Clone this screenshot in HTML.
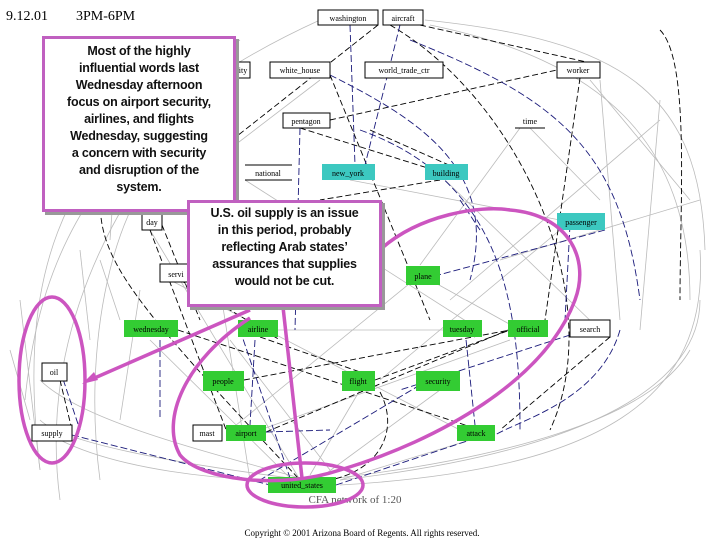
<!DOCTYPE html>
<html><head><meta charset="utf-8"><style>
body{margin:0;width:720px;height:540px;background:#fff;overflow:hidden;position:relative;font-family:"Liberation Serif",serif}
svg{position:absolute;left:0;top:0}
.cb{position:absolute;background:#fff;border:3px solid #c060c0;box-shadow:3px 3px 0 #999;font-family:"Liberation Sans","DejaVu Sans",sans-serif;font-weight:bold;text-align:center;color:#111;white-space:nowrap;box-sizing:border-box;letter-spacing:-0.2px}
</style></head><body>
<svg width="720" height="540" viewBox="0 0 720 540">
<text x="6" y="20" font-size="14" font-family="Liberation Serif">9.12.01</text>
<text x="76" y="20" font-size="14" font-family="Liberation Serif">3PM-6PM</text>
<g fill="none" stroke="#bbb" stroke-width="0.8">
<path d="M40 470 C20 300 40 150 240 40"/><path d="M25 400 C40 250 100 120 320 20"/>
<path d="M60 500 C40 350 100 200 230 70"/><path d="M100 480 C80 330 120 180 180 150"/>
<path d="M425 20 C620 40 700 90 705 250"/><path d="M430 25 C600 60 690 140 690 300"/>
<path d="M340 480 C600 450 700 380 700 300"/><path d="M340 485 C600 470 710 400 700 250"/>
<path d="M320 480 C500 460 650 420 690 350"/><path d="M300 478 C200 450 80 420 40 380"/>
<path d="M290 478 C150 460 60 440 40 420"/><path d="M60 440 C120 470 220 480 280 480"/>
<line x1="150" y1="230" x2="300" y2="480"/><line x1="170" y1="280" x2="460" y2="430"/>
<line x1="245" y1="180" x2="480" y2="330"/><line x1="350" y1="180" x2="560" y2="220"/>
<line x1="445" y1="180" x2="600" y2="330"/><line x1="520" y1="128" x2="420" y2="265"/>
<line x1="530" y1="128" x2="600" y2="200"/><line x1="590" y1="80" x2="690" y2="200"/>
<line x1="420" y1="275" x2="230" y2="430"/><line x1="430" y1="280" x2="520" y2="330"/>
<line x1="100" y1="260" x2="120" y2="320"/><line x1="230" y1="340" x2="330" y2="470"/>
<line x1="360" y1="390" x2="310" y2="475"/><line x1="440" y1="390" x2="320" y2="478"/>
<line x1="470" y1="440" x2="340" y2="480"/><line x1="150" y1="340" x2="290" y2="478"/>
<line x1="320" y1="80" x2="150" y2="210"/><line x1="600" y1="80" x2="620" y2="320"/>
<line x1="660" y1="100" x2="640" y2="330"/><line x1="80" y1="250" x2="90" y2="340"/>
<line x1="140" y1="290" x2="120" y2="420"/><line x1="510" y1="340" x2="260" y2="430"/>
<line x1="560" y1="230" x2="380" y2="380"/><line x1="240" y1="330" x2="470" y2="330"/>
<line x1="200" y1="160" x2="250" y2="480"/><line x1="120" y1="100" x2="110" y2="240"/>
<line x1="20" y1="300" x2="40" y2="470"/><line x1="10" y1="350" x2="30" y2="420"/>
<line x1="450" y1="300" x2="660" y2="120"/><line x1="500" y1="260" x2="700" y2="200"/>
</g>
<g fill="none" stroke="#000" stroke-width="0.9" stroke-dasharray="6,3">
<line x1="378" y1="25" x2="232" y2="140"/><line x1="420" y1="25" x2="600" y2="65"/>
<line x1="330" y1="120" x2="557" y2="70"/><line x1="300" y1="128" x2="450" y2="175"/>
<line x1="580" y1="78" x2="545" y2="320"/><line x1="440" y1="180" x2="320" y2="200"/>
<line x1="162" y1="225" x2="200" y2="320"/><line x1="150" y1="230" x2="230" y2="440"/>
<line x1="178" y1="330" x2="480" y2="430"/><line x1="375" y1="380" x2="510" y2="330"/>
<line x1="244" y1="380" x2="510" y2="330"/><line x1="266" y1="432" x2="508" y2="330"/>
<line x1="260" y1="337" x2="360" y2="372"/><line x1="180" y1="280" x2="280" y2="340"/>
<line x1="60" y1="380" x2="72" y2="430"/><line x1="370" y1="130" x2="460" y2="170"/>
<path d="M390 25 C520 100 610 300 550 430"/><path d="M660 30 C690 60 680 200 680 300"/>
<path d="M100 200 C100 260 130 300 300 480"/><path d="M380 392 C400 430 380 470 330 480"/>
<line x1="330" y1="75" x2="430" y2="320"/><line x1="610" y1="337" x2="500" y2="430"/>
</g>
<g fill="none" stroke="#1a1a7a" stroke-width="0.9" stroke-dasharray="7,3">
<line x1="350" y1="25" x2="355" y2="165"/><line x1="400" y1="25" x2="365" y2="165"/>
<path d="M360 130 C500 180 520 300 520 430"/><path d="M410 40 C560 100 620 150 640 300"/>
<line x1="605" y1="230" x2="420" y2="280"/><line x1="570" y1="225" x2="565" y2="320"/>
<line x1="72" y1="435" x2="270" y2="485"/><line x1="60" y1="370" x2="80" y2="430"/>
<line x1="336" y1="485" x2="470" y2="440"/><line x1="266" y1="432" x2="330" y2="430"/>
<line x1="160" y1="340" x2="160" y2="420"/><line x1="255" y1="340" x2="250" y2="425"/>
<line x1="420" y1="385" x2="260" y2="480"/><line x1="570" y1="335" x2="400" y2="390"/>
<line x1="465" y1="330" x2="475" y2="425"/><line x1="300" y1="128" x2="295" y2="330"/>
<path d="M330 75 C420 120 500 170 470 280"/><path d="M620 330 C600 400 520 420 495 435"/>
<line x1="460" y1="200" x2="480" y2="230"/><line x1="240" y1="330" x2="290" y2="478"/>
</g>
<g font-size="8" font-family="Liberation Serif" text-anchor="middle">
<rect x="318" y="10" width="60" height="15" fill="#fff" stroke="#000"/><text x="348" y="21">washington</text>
<rect x="383" y="10" width="40" height="15" fill="#fff" stroke="#000"/><text x="403" y="21">aircraft</text>
<rect x="232" y="62" width="18" height="16" fill="#fff" stroke="#000"/><text x="243" y="73">ity</text>
<rect x="270" y="62" width="60" height="16" fill="#fff" stroke="#000"/><text x="300" y="73">white_house</text>
<rect x="365" y="62" width="78" height="16" fill="#fff" stroke="#000"/><text x="404" y="73">world_trade_ctr</text>
<rect x="557" y="62" width="43" height="16" fill="#fff" stroke="#000"/><text x="578" y="73">worker</text>
<rect x="283" y="113" width="47" height="15" fill="#fff" stroke="#000"/><text x="306" y="124">pentagon</text>
<rect x="515" y="113" width="30" height="15" fill="#fff"/><line x1="515" y1="128" x2="545" y2="128" stroke="#000"/><text x="530" y="124">time</text>
<rect x="245" y="165" width="47" height="15" fill="#fff"/><line x1="245" y1="165" x2="292" y2="165" stroke="#000"/><line x1="245" y1="180" x2="292" y2="180" stroke="#000"/><text x="268" y="176">national</text>
<rect x="322" y="164" width="53" height="16" fill="#3cc8c0"/><text x="348" y="176">new_york</text>
<rect x="425" y="164" width="43" height="16" fill="#3cc8c0"/><text x="446" y="176">building</text>
<rect x="142" y="213" width="20" height="17" fill="#fff" stroke="#000"/><text x="152" y="225">day</text>
<rect x="557" y="213" width="48" height="17" fill="#3cc8c0"/><text x="581" y="225">passenger</text>
<rect x="160" y="264" width="28" height="18" fill="#fff" stroke="#000"/><text x="176" y="277">servi</text>
<rect x="406" y="266" width="34" height="19" fill="#33cc33"/><text x="423" y="279">plane</text>
<rect x="124" y="320" width="54" height="17" fill="#33cc33"/><text x="151" y="332">wednesday</text>
<rect x="238" y="320" width="40" height="17" fill="#33cc33"/><text x="258" y="332">airline</text>
<rect x="443" y="320" width="39" height="17" fill="#33cc33"/><text x="462" y="332">tuesday</text>
<rect x="508" y="320" width="40" height="17" fill="#33cc33"/><text x="528" y="332">official</text>
<rect x="570" y="320" width="40" height="17" fill="#fff" stroke="#000"/><text x="590" y="332">search</text>
<rect x="42" y="363" width="25" height="18" fill="#fff" stroke="#000"/><text x="54" y="375">oil</text>
<rect x="203" y="371" width="41" height="20" fill="#33cc33"/><text x="223" y="384">people</text>
<rect x="342" y="371" width="33" height="20" fill="#33cc33"/><text x="358" y="384">flight</text>
<rect x="416" y="371" width="44" height="20" fill="#33cc33"/><text x="438" y="384">security</text>
<rect x="32" y="425" width="40" height="16" fill="#fff" stroke="#000"/><text x="52" y="436">supply</text>
<rect x="193" y="425" width="29" height="16" fill="#fff" stroke="#000"/><text x="207" y="436">mast</text>
<rect x="226" y="425" width="40" height="16" fill="#33cc33"/><text x="246" y="436">airport</text>
<rect x="457" y="425" width="38" height="16" fill="#33cc33"/><text x="476" y="436">attack</text>
<rect x="268" y="477" width="68" height="16" fill="#33cc33"/><text x="302" y="488">united_states</text>
<text x="355" y="503" font-size="11" fill="#555">CFA network of 1:20</text>
<text x="362" y="536" font-size="9">Copyright © 2001 Arizona Board of Regents. All rights reserved.</text>
</g>
<g fill="none" stroke="#cc55c0" stroke-width="3.5">
<ellipse cx="52" cy="380" rx="33" ry="83"/>
<ellipse cx="305" cy="485" rx="58" ry="22"/>
<path d="M382 248 C420 215 480 205 510 210 C570 215 590 260 575 300 C545 380 440 440 340 470 C280 490 200 480 180 455 C160 420 185 360 250 318"/>
<line x1="250" y1="310" x2="90" y2="380"/>
<line x1="283" y1="307" x2="302" y2="478"/>
</g>
<polygon points="82,384 94,372 98,380" fill="#cc55c0"/>
</svg>
<div class="cb" style="left:42px;top:36px;width:194px;height:176px;font-size:12.5px;line-height:17px;padding-top:4px">Most of the highly<br>influential words last<br>Wednesday afternoon<br>focus on airport security,<br>airlines, and flights<br>Wednesday, suggesting<br>a concern with security<br>and disruption of the<br>system.</div>
<div class="cb" style="left:187px;top:200px;width:195px;height:107px;font-size:12.5px;line-height:17px;padding-top:2px">U.S. oil supply is an issue<br>in this period, probably<br>reflecting Arab states’<br>assurances that supplies<br>would not be cut.</div>
</body></html>
